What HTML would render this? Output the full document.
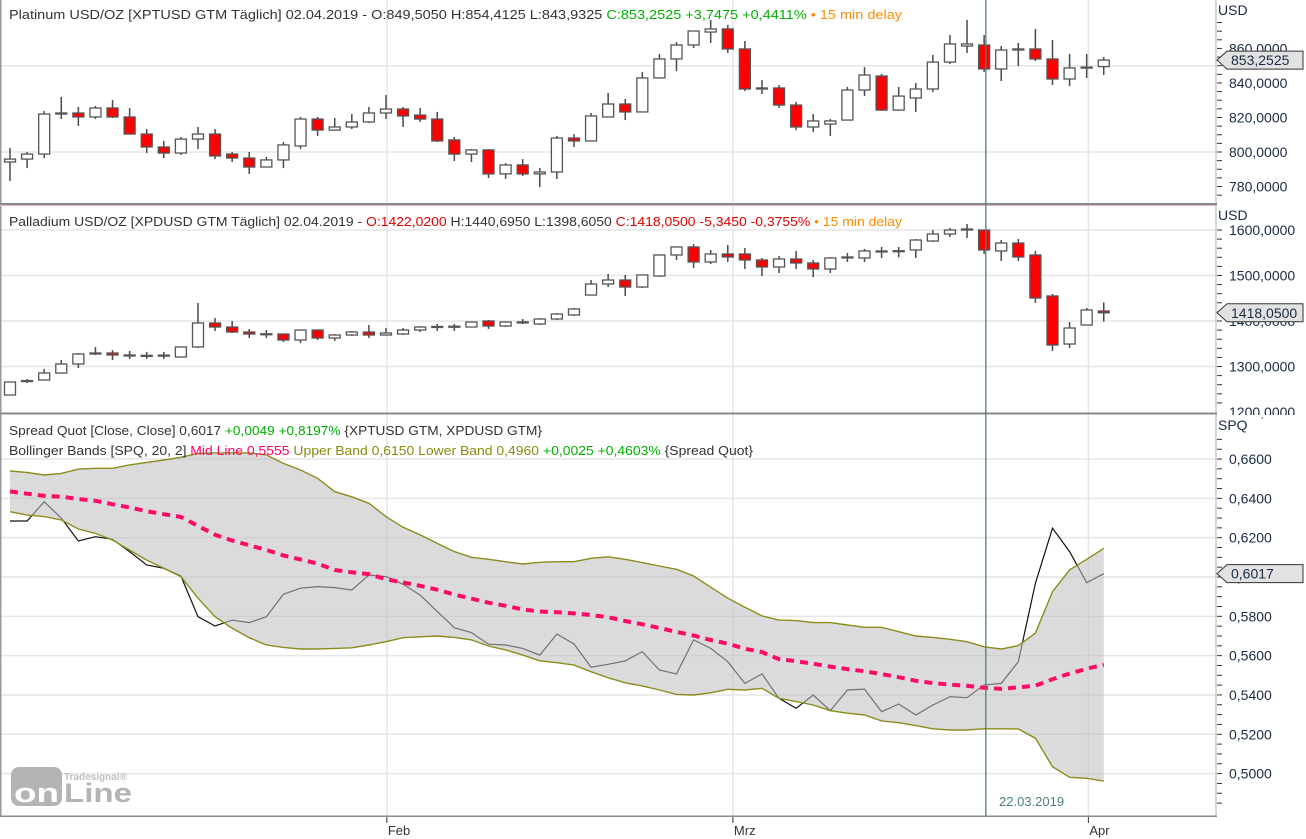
<!DOCTYPE html>
<html><head><meta charset="utf-8"><style>
html,body{margin:0;padding:0;background:#fff;width:1306px;height:839px;overflow:hidden}
svg{display:block;font-family:"Liberation Sans",sans-serif}
</style></head><body>
<svg id="chart" width="1306" height="839" viewBox="0 0 1306 839" xmlns="http://www.w3.org/2000/svg">
<defs>
<clipPath id="c1"><rect x="1" y="0" width="1215" height="203"/></clipPath>
<clipPath id="c2"><rect x="1" y="207" width="1215" height="205"/></clipPath>
<clipPath id="c3"><rect x="1" y="416" width="1215" height="399"/></clipPath>
</defs>
<rect x="0" y="0" width="1306" height="839" fill="#fff"/>
<g id="grid"></g>
<g id="p1" clip-path="url(#c1)"></g>
<g id="p2" clip-path="url(#c2)"></g>
<g id="p3" clip-path="url(#c3)"></g>
<g id="frame">
<rect x="0" y="0" width="1.5" height="817" fill="#9a9a9a"/>
<rect x="1215.5" y="0" width="1" height="817" fill="#b0b0b0"/>
<rect x="0" y="203" width="1217" height="2" fill="#8a8a8a"/>
<rect x="0" y="205" width="1217" height="1" fill="#e0b8b8"/>
<rect x="0" y="412.5" width="1217" height="2" fill="#8a8a8a"/>
<rect x="0" y="815.5" width="1217" height="1.5" fill="#8a8a8a"/>
</g>
<g id="axes" font-size="14" fill="#1a2a44"></g>
<g font-size="13">
<text x="9" y="19" textLength="893" lengthAdjust="spacingAndGlyphs"><tspan fill="#333">Platinum USD/OZ [XPTUSD GTM Täglich] 02.04.2019 - O:849,5050 H:854,4125 L:843,9325 </tspan><tspan fill="#00b000">C:853,2525 +3,7475 +0,4411%</tspan><tspan fill="#ff8c00"> • 15 min delay</tspan></text>
</g>
<g font-size="13">
<text x="9" y="226" textLength="893" lengthAdjust="spacingAndGlyphs"><tspan fill="#333">Palladium USD/OZ [XPDUSD GTM Täglich] 02.04.2019 - </tspan><tspan fill="#e00000">O:1422,0200</tspan><tspan fill="#333"> H:1440,6950 L:1398,6050 </tspan><tspan fill="#e00000">C:1418,0500 -5,3450 -0,3755%</tspan><tspan fill="#ff8c00"> • 15 min delay</tspan></text>
</g>
<g font-size="13">
<text x="9" y="435" textLength="533" lengthAdjust="spacingAndGlyphs"><tspan fill="#333">Spread Quot [Close, Close] 0,6017 </tspan><tspan fill="#00b000">+0,0049 +0,8197%</tspan><tspan fill="#333"> {XPTUSD GTM, XPDUSD GTM}</tspan></text>
<text x="9" y="455" textLength="744" lengthAdjust="spacingAndGlyphs"><tspan fill="#333">Bollinger Bands [SPQ, 20, 2] </tspan><tspan fill="#ff0066">Mid Line 0,5555</tspan><tspan fill="#8a8a10"> Upper Band 0,6150 Lower Band 0,4960 </tspan><tspan fill="#00b000">+0,0025 +0,4603%</tspan><tspan fill="#333"> {Spread Quot}</tspan></text>
</g>
<g>
<rect x="11" y="767" width="51" height="39" rx="8" fill="#b4b4b4"/>
<text x="14" y="802" font-size="27" font-weight="bold" fill="#fff" textLength="45" lengthAdjust="spacingAndGlyphs">on</text>
<text x="64" y="802" font-size="27" font-weight="bold" fill="#b4b4b4" textLength="68" lengthAdjust="spacingAndGlyphs">Line</text>
<text x="64" y="780" font-size="10" font-weight="bold" fill="#c0c0c0">Tradesignal®</text>
</g>
<text x="999" y="806" font-size="13" fill="#4a8080">22.03.2019</text>
</svg>
<script>
const ptOpen=[794.2,795.9,798.8,822.0,822.6,820.3,825.5,820.3,810.4,802.9,799.4,807.5,810.4,798.8,796.5,791.3,795.4,803.5,819.1,812.7,814.5,817.4,822.6,824.9,821.4,819.1,807.0,798.8,801.2,787.3,792.5,787.3,788.4,808.1,806.4,820.3,827.8,823.2,842.9,853.9,862.0,869.5,871.3,859.7,836.5,837.1,827.2,814.5,816.2,818.5,835.9,844.0,824.3,831.3,836.5,852.1,861.4,862.0,848.1,859.1,859.7,853.9,842.3,848.7,849.505];
const ptHigh=[802.3,800,823.8,831.9,826.1,826.7,830.1,825.5,813.3,806.4,808.7,814.5,813.3,800,800,797.1,805.8,820.3,820.3,819.7,822.0,826.1,833.0,826.1,825.5,823.2,808.7,801.7,801.7,793.6,795.9,790.7,809.3,810.4,822.6,834.2,830.7,846.4,856.8,863.7,870.1,876.5,873.6,864.3,841.7,838.8,829.0,822.0,819.1,837.7,849.2,845.2,837.7,840.0,856.2,867.8,876.5,867.8,861.4,863.2,871.3,864.9,856.8,856.8,855.0];
const ptLow=[783.2,790.7,796.5,819.1,815.1,819.1,819.7,810.4,799.4,796.5,798.3,801.7,795.9,794.2,787.3,791.3,790.7,801.7,809.3,812.7,813.3,816.8,819.1,814.5,817.4,805.8,794.8,794.2,784.9,784.4,786.1,779.7,784.4,802.9,806.4,820.3,818.5,823.2,842.9,846.9,860.3,863.2,857.4,835.3,833.6,825.5,812.7,811.6,809.3,818.5,832.4,823.8,823.8,823.2,834.7,851.0,857.4,846.4,841.1,849.8,852.7,838.8,838.2,842.9,844.6];
const ptClose=[795.9,798.8,822.0,822.6,820.3,825.5,820.3,810.4,802.9,799.4,807.5,810.4,797.7,796.5,791.3,795.4,804.1,819.1,812.7,814.5,817.4,822.6,824.9,820.9,819.1,806.4,798.8,801.2,787.3,792.5,787.3,788.4,808.1,806.4,820.9,827.8,823.2,842.9,853.9,862.0,870.1,871.3,859.7,836.5,837.1,827.2,814.5,818.0,818.0,835.9,844.6,824.3,832.4,836.5,852.1,862.6,862.6,848.1,859.1,859.7,853.9,842.3,848.7,849.2,853.2525];
const pdOpen=[1237.3,1267,1270.3,1285.7,1305.5,1327.5,1329.7,1325.3,1323.5,1324,1320.9,1342.9,1395.6,1386.8,1375.8,1371.4,1371.4,1358.2,1380.2,1362.6,1369.2,1375.8,1369.2,1371.4,1380.2,1386.8,1387.5,1386.8,1400,1389,1396,1393.4,1404.4,1413.2,1457.1,1481.3,1490.1,1474.7,1498.9,1545.1,1562.7,1529.7,1547.3,1547.3,1534.1,1518.7,1536.3,1527.5,1514.3,1538.5,1538.5,1551.7,1552.5,1556.1,1575.8,1591.2,1600,1600,1553.9,1571.4,1545.1,1455,1349.4,1391.2,1422.02];
const pdHigh=[1266,1272.5,1294.5,1314.3,1329.7,1342.9,1336,1334.1,1332,1332,1342.9,1439.6,1406.6,1400,1382.4,1380.2,1371.4,1380.2,1380.2,1371.4,1378,1391.2,1384.6,1384.6,1389,1393.4,1393.4,1397.8,1402.2,1397.8,1404.4,1406.6,1417.6,1428.6,1490.1,1503.3,1501.1,1501.1,1545.1,1562.7,1569.2,1556.1,1567,1560.5,1538.5,1542.9,1553.9,1534.1,1540.7,1549.5,1558.3,1562.7,1562.7,1580.2,1600,1604.4,1613.2,1600,1578,1580.2,1553.9,1459.3,1397.8,1428.6,1440.7];
const pdLow=[1237.3,1263.7,1270.3,1285.7,1296.7,1325.3,1314.3,1316.5,1316.5,1316.5,1320.9,1340.7,1378,1373.6,1362.6,1362.6,1353.8,1351.6,1358.2,1356,1367,1362.6,1369.2,1369.2,1375.8,1378,1378,1386.8,1382.4,1386.8,1393.4,1391.2,1402.2,1411,1457.1,1474.7,1455,1472.5,1496.7,1534.1,1516.5,1525.3,1529.7,1514.3,1498.9,1505.5,1514.3,1496.7,1505.5,1529.7,1529.7,1538.5,1540,1538.5,1573.6,1584.6,1582.4,1547.3,1531.9,1531.9,1439.6,1334.1,1340.7,1391.2,1398.6];
const pdClose=[1266,1269,1285.7,1305.5,1327.5,1329.7,1325.3,1324,1324.5,1325,1342.9,1395.6,1386.8,1375.8,1371.4,1372,1358.2,1380.2,1362.6,1369.2,1375.8,1369.2,1373.6,1380.2,1386.8,1388,1388.5,1397.8,1389,1397.8,1398,1404.4,1415.4,1426.4,1481.3,1490.1,1474.7,1501.1,1545.1,1562.7,1529.7,1547.3,1540.7,1534.1,1518.7,1536.3,1527.5,1514.3,1538.5,1540.7,1553.9,1553.9,1554.5,1578,1591.2,1600,1602.2,1556.1,1571.4,1540.7,1450.6,1347.2,1384.6,1424.2,1418.05];
const spread=[0.6285,0.6285,0.6383,0.6299,0.6183,0.6205,0.6192,0.6129,0.6061,0.6044,0.6005,0.5798,0.5751,0.5781,0.5768,0.5798,0.5912,0.5943,0.5951,0.5946,0.5934,0.6010,0.6002,0.5963,0.5908,0.5824,0.5742,0.5717,0.5658,0.5654,0.5637,0.5603,0.5710,0.5659,0.5541,0.5556,0.5573,0.5620,0.5527,0.5507,0.5680,0.5637,0.5569,0.5459,0.5507,0.5383,0.5332,0.5400,0.5320,0.5425,0.5430,0.5315,0.5354,0.5298,0.5349,0.5391,0.5386,0.5451,0.5459,0.5569,0.5968,0.6248,0.6129,0.5971,0.6017];
const upperBand=[0.6539,0.6532,0.6519,0.6527,0.6549,0.6553,0.6553,0.6570,0.6583,0.6595,0.6609,0.6628,0.6631,0.6631,0.6631,0.6621,0.6578,0.6544,0.6502,0.6434,0.6408,0.6375,0.6307,0.6253,0.6214,0.6171,0.6129,0.6100,0.6090,0.6078,0.6066,0.6075,0.6078,0.6078,0.6095,0.6103,0.6090,0.6073,0.6056,0.6039,0.6005,0.5948,0.5892,0.5846,0.5802,0.5781,0.5778,0.5768,0.5768,0.5756,0.5744,0.5744,0.5722,0.5700,0.5693,0.5683,0.5671,0.5645,0.5634,0.5651,0.5714,0.5925,0.6036,0.6090,0.6146];
const lowerBand=[0.6332,0.6315,0.6307,0.6290,0.6244,0.6222,0.6188,0.6137,0.6086,0.6044,0.6002,0.5892,0.5798,0.5739,0.5691,0.5654,0.5642,0.5634,0.5634,0.5637,0.5640,0.5654,0.5671,0.5691,0.5696,0.5700,0.5693,0.5680,0.5649,0.5629,0.5603,0.5574,0.5564,0.5552,0.5518,0.5488,0.5462,0.5446,0.5425,0.5403,0.5400,0.5411,0.5429,0.5425,0.5434,0.5383,0.5366,0.5349,0.5320,0.5307,0.5298,0.5268,0.5259,0.5244,0.5228,0.5222,0.5222,0.5228,0.5228,0.5227,0.5180,0.5035,0.4981,0.4976,0.4962];
const ptTicks=[860,840,820,800,780];
const ptGrid=[850,800];
const pdTicks=[1600,1500,1400,1300,1200];
const spqTicks=[0.66,0.64,0.62,0.60,0.58,0.56,0.54,0.52,0.50];
const monthLabels=['Feb','Mrz','Apr'];
const monthIdx=[22.05,42.3,63.1];
const cursorIdx=57.1;

const NS='http://www.w3.org/2000/svg';
const xS=i=>10+i*17.09;
const yP=v=>152-(v-800)*1.726;
const yD=v=>321-(v-1400)*0.455;
const yS=v=>577-(v-0.6)*1966;
function mk(tag,attrs,parent){const e=document.createElementNS(NS,tag);for(const k in attrs)e.setAttribute(k,attrs[k]);parent.appendChild(e);return e;}
const fmt=(v,d)=>v.toFixed(d).replace('.',',');

const grid=document.getElementById('grid');
ptGrid.forEach(v=>{const l=mk('line',{x1:1,x2:1216,y1:yP(v),y2:yP(v),stroke:'#e6e6e6','stroke-width':1.5},grid);

});
pdTicks.forEach(v=>{if(yD(v)<208||yD(v)>411)return;const l=mk('line',{x1:1,x2:1216,y1:yD(v),y2:yD(v),stroke:'#e6e6e6','stroke-width':1.5},grid);

});
spqTicks.forEach(v=>{const l=mk('line',{x1:1,x2:1216,y1:yS(v),y2:yS(v),stroke:'#e6e6e6','stroke-width':1.5},grid);

});
monthIdx.forEach(i=>{const l=mk('line',{x1:xS(i),x2:xS(i),y1:0,y2:816,stroke:'#e6e6e6','stroke-width':1.5},grid);

});

function candles(g,O,H,L,C,ys,name){
  for(let i=0;i<O.length;i++){
    const x=xS(i);
    const w=mk('line',{x1:x,x2:x,y1:ys(H[i]),y2:ys(L[i]),stroke:'#4a4a4a','stroke-width':1.5},g);
    
    
    const t=Math.min(ys(O[i]),ys(C[i])),b=Math.max(ys(O[i]),ys(C[i]));
    const r=mk('rect',{x:x-5.5,y:t,width:11,height:Math.max(b-t,1),fill:C[i]<O[i]?'#ff0000':'#ffffff',stroke:'#555','stroke-width':1.3},g);
    
    
  }
}
candles(document.getElementById('p1'),ptOpen,ptHigh,ptLow,ptClose,yP,'platinum');
candles(document.getElementById('p2'),pdOpen,pdHigh,pdLow,pdClose,yD,'palladium');

const p3=document.getElementById('p3');
const pts=a=>a.map((v,i)=>xS(i).toFixed(1)+','+yS(v).toFixed(1)).join(' ');
const sl=mk('polyline',{points:pts(spread),fill:'none',stroke:'#111','stroke-width':1.2},p3);


const bandPts=pts(upperBand)+' '+lowerBand.map((v,i)=>[xS(i),yS(v)]).reverse().map(p=>p[0].toFixed(1)+','+p[1].toFixed(1)).join(' ');
const fill=mk('polygon',{points:bandPts,fill:'rgba(190,190,190,0.56)'},p3);


const ub=mk('polyline',{points:pts(upperBand),fill:'none',stroke:'#8c8c1c','stroke-width':1.4},p3);


const lb=mk('polyline',{points:pts(lowerBand),fill:'none',stroke:'#8c8c1c','stroke-width':1.4},p3);


const mid=upperBand.map((u,i)=>(u+lowerBand[i])/2);
const ml=mk('polyline',{points:pts(mid),fill:'none',stroke:'#ff0a68','stroke-width':4,'stroke-dasharray':'8 6'},p3);



const cx=xS(cursorIdx);
const cur=mk('line',{x1:cx,x2:cx,y1:0,y2:816,stroke:'#4d7f80','stroke-width':1.3},document.getElementById('chart'));



const ax=document.getElementById('axes');
function unitLabel(t,y){const e=mk('text',{x:1218,y:y},ax);e.textContent=t;

}
unitLabel('USD',15);unitLabel('USD',220);unitLabel('SPQ',430);
function minor(y){mk('line',{x1:1217,x2:1222,y1:y,y2:y,stroke:'#333','stroke-width':1},ax);}
for(let v=775;v<=880;v+=5){const y=yP(v);if(y>20&&y<201)minor(y);}
for(let v=1180;v<=1620;v+=20){const y=yD(v);if(y>226&&y<411)minor(y);}
for(let v=0.485;v<=0.671;v+=0.005){const y=yS(v);if(y>438&&y<814)minor(y);}
ptTicks.forEach(v=>{const e=mk('text',{x:1229,y:yP(v)+5},ax);e.textContent=fmt(v,4);

});
pdTicks.forEach(v=>{const e=mk('text',{x:1229,y:yD(v)+5},ax);e.textContent=fmt(v,4);

});
spqTicks.forEach(v=>{const e=mk('text',{x:1229,y:yS(v)+5},ax);e.textContent=fmt(v,4);

});
mk('rect',{x:1217,y:415,width:89,height:2,fill:'#fff'},ax);
function tag(v,y,d){
  const g=mk('g',{},ax);
  
  
  mk('polygon',{points:`1217,${y} 1227,${y-9} 1303,${y-9} 1303,${y+9} 1227,${y+9}`,fill:'#e2e2e2',stroke:'#333','stroke-width':1},g);
  const t=mk('text',{x:1231,y:y+5},g);t.textContent=fmt(v,d);
}
tag(ptClose[ptClose.length-1],yP(ptClose[ptClose.length-1]),4);
tag(pdClose[pdClose.length-1],yD(pdClose[pdClose.length-1]),4);
tag(spread[spread.length-1],yS(spread[spread.length-1]),4);
monthLabels.forEach((m,k)=>{const x=xS(monthIdx[k]);
  mk('line',{x1:x,x2:x,y1:817,y2:823,stroke:'#333','stroke-width':1},ax);
  const e=mk('text',{x:x+1,y:835,'font-size':13,fill:'#333'},ax);e.textContent=m;
  
  });
</script>
</body></html>
